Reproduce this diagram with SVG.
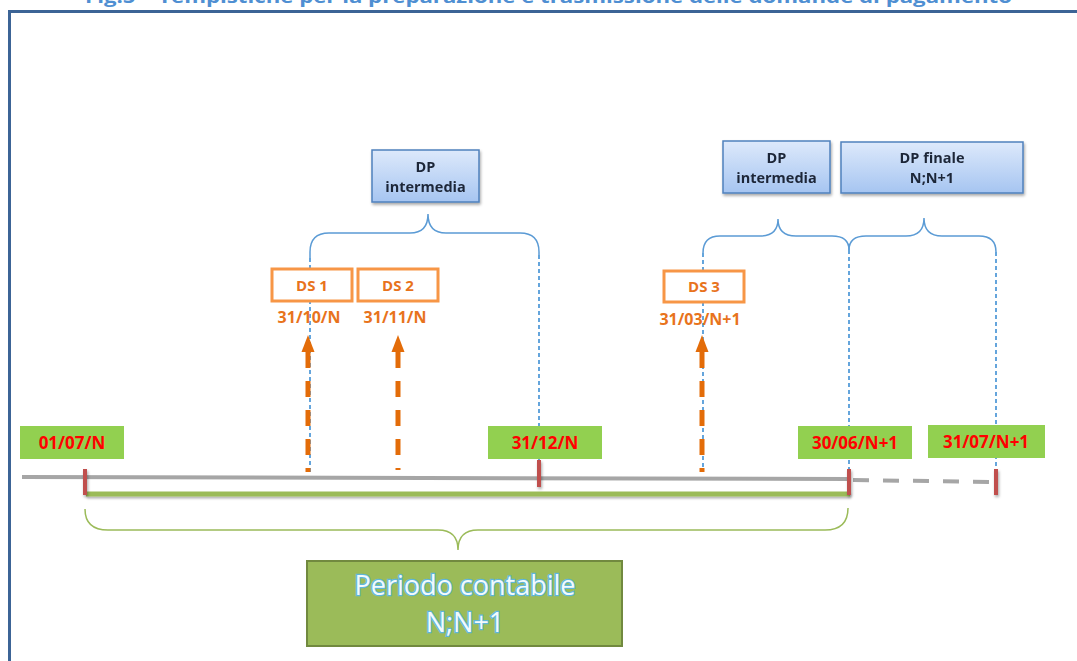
<svg xmlns="http://www.w3.org/2000/svg" width="1077" height="661" viewBox="0 0 1077 661">
  <style>
    .title { font-family: "Open Sans", "Liberation Sans", sans-serif; font-weight: 700; font-size: 17px; fill: #4f8fd2; }
    .date-box { fill: #92d050; }
    .date-txt { font-family: "Open Sans", "Liberation Sans", sans-serif; font-weight: 700; font-size: 17px; fill: #ff0000; text-anchor: middle; }
    .tick { stroke: #c0504d; stroke-width: 4; }
    .dp-box { fill: url(#dpGrad); stroke: #4f81bd; stroke-width: 1.5; }
    .dp-txt { font-family: "Open Sans", "Liberation Sans", sans-serif; font-weight: 700; font-size: 14.5px; fill: #1e2738; text-anchor: middle; }
    .ds-box { fill: #ffffff; stroke: #f79646; stroke-width: 3; }
    .ds-txt { font-family: "Open Sans", "Liberation Sans", sans-serif; font-weight: 700; font-size: 15px; fill: #e8731c; text-anchor: middle; }
    .ds-date { font-family: "Open Sans", "Liberation Sans", sans-serif; font-weight: 700; font-size: 16px; fill: #e8731c; text-anchor: middle; }
    .brace-blue { fill: none; stroke: #5b9bd5; stroke-width: 1.5; }
    .guide { stroke: #3f8fd4; stroke-width: 1.6; stroke-dasharray: 4 3; }
    .arrow-shaft { stroke: #e36c09; stroke-width: 5; stroke-dasharray: 16 13; }
    .arrow-head { fill: #e36c09; }
    .period-txt { font-family: "Open Sans", "Liberation Sans", sans-serif; font-size: 27px; fill: #f2fafd; stroke: #5fb6d8; stroke-width: 2.4; paint-order: stroke; text-anchor: middle; }
  </style>
  <defs>
    <linearGradient id="dpGrad" x1="0" y1="0" x2="0" y2="1">
      <stop offset="0" stop-color="#dde9fb"/>
      <stop offset="1" stop-color="#a6c5f1"/>
    </linearGradient>
    <filter id="shadow" x="-10%" y="-20%" width="130%" height="160%">
      <feGaussianBlur in="SourceAlpha" stdDeviation="1.5"/>
      <feOffset dx="1" dy="2" result="b"/>
      <feComponentTransfer><feFuncA type="linear" slope="0.35"/></feComponentTransfer>
      <feMerge><feMergeNode/><feMergeNode in="SourceGraphic"/></feMerge>
    </filter>
    <filter id="barShadow" filterUnits="userSpaceOnUse" x="0" y="480" width="1077" height="30">
      <feGaussianBlur in="SourceAlpha" stdDeviation="1.2"/>
      <feOffset dx="1" dy="2"/>
      <feComponentTransfer><feFuncA type="linear" slope="0.3"/></feComponentTransfer>
      <feMerge><feMergeNode/><feMergeNode in="SourceGraphic"/></feMerge>
    </filter>
  </defs>

  <rect width="1077" height="661" fill="#ffffff"/>

  <!-- caption, clipped by the page top -->
  <text class="title" x="85" y="3" textLength="927" lengthAdjust="spacingAndGlyphs">Fig.5 – Tempistiche per la preparazione e trasmissione delle domande di pagamento</text>

  <!-- frame -->
  <path d="M9.5,700 V11.5 H1077" fill="none" stroke="#3c6496" stroke-width="3"/>

  <!-- timeline -->
  <g id="timeline">
    <line x1="22" y1="477" x2="849" y2="479" stroke="#a6a6a6" stroke-width="4"/>
    <line x1="853" y1="480" x2="995" y2="482" stroke="#a6a6a6" stroke-width="4" stroke-dasharray="16 14"/>
    <rect x="86" y="491.5" width="764" height="5" fill="#9bbb59" filter="url(#barShadow)"/>
  </g>

  <!-- connectors: guide lines, braces, arrows -->
  <g id="connectors">
    <line class="guide" x1="310" y1="258" x2="310" y2="472"/>
    <line class="guide" x1="539" y1="255" x2="539" y2="470"/>
    <line class="guide" x1="703" y1="253" x2="703" y2="472"/>
    <line class="guide" x1="849" y1="250" x2="849" y2="470"/>
    <line class="guide" x1="996" y1="252" x2="996" y2="470"/>

    <path class="brace-blue" d="M310,258 V252 Q310,233 329,233 H410 Q428,233 428,214 Q428,233 446,233 H520 Q539,233 539,252 V255"/>
    <path class="brace-blue" d="M703,253 Q703,236 720,236 H760 Q778,236 778,219 Q778,236 796,236 H832 Q849,236 849,250"/>
    <path class="brace-blue" d="M849,250 Q849,236 866,236 H906 Q924,236 924,218 Q924,236 942,236 H979 Q996,236 996,252"/>

    <path d="M85,509 Q85,530 108,530 H438 Q458,530 458,550 Q458,530 478,530 H825 Q848,530 848,508" fill="none" stroke="#9bbb59" stroke-width="1.5"/>

    <line class="arrow-shaft" x1="308" y1="352" x2="308" y2="472"/>
    <polygon class="arrow-head" points="308,335 301.5,352 314.5,352"/>
    <line class="arrow-shaft" x1="398" y1="352" x2="398" y2="470"/>
    <polygon class="arrow-head" points="398,335 391.5,352 404.5,352"/>
    <line class="arrow-shaft" x1="702" y1="352" x2="702" y2="472"/>
    <polygon class="arrow-head" points="702,335 695.5,352 708.5,352"/>
  </g>

  <!-- ticks -->
  <g id="ticks" filter="url(#shadow)">
    <line class="tick" x1="85" y1="469" x2="85" y2="495"/>
    <line class="tick" x1="539" y1="460" x2="539" y2="487"/>
    <line class="tick" x1="849" y1="469" x2="849" y2="495"/>
    <line class="tick" x1="996" y1="469" x2="996" y2="495"/>
  </g>

  <!-- date markers -->
  <g id="d-0107">
    <rect class="date-box" x="20" y="426" width="104" height="33"/>
    <text class="date-txt" x="72" y="449">01/07/N</text>
  </g>
  <g id="d-3112">
    <rect class="date-box" x="488" y="426" width="114" height="33"/>
    <text class="date-txt" x="545" y="449">31/12/N</text>
  </g>
  <g id="d-3006">
    <rect class="date-box" x="798" y="426" width="114" height="33"/>
    <text class="date-txt" x="855" y="449">30/06/N+1</text>
  </g>
  <g id="d-3107">
    <rect class="date-box" x="928" y="425" width="117" height="33"/>
    <text class="date-txt" x="986" y="448">31/07/N+1</text>
  </g>

  <!-- payment requests -->
  <g id="dp1" filter="url(#shadow)">
    <rect class="dp-box" x="372" y="150" width="107" height="52"/>
    <text class="dp-txt" x="425.5" y="172">DP</text>
    <text class="dp-txt" x="425.5" y="192">intermedia</text>
  </g>
  <g id="dp2" filter="url(#shadow)">
    <rect class="dp-box" x="723" y="141" width="107" height="52"/>
    <text class="dp-txt" x="776.5" y="163">DP</text>
    <text class="dp-txt" x="776.5" y="183">intermedia</text>
  </g>
  <g id="dp-finale" filter="url(#shadow)">
    <rect class="dp-box" x="841" y="142" width="182" height="51"/>
    <text class="dp-txt" x="932" y="163">DP finale</text>
    <text class="dp-txt" x="932" y="183">N;N+1</text>
  </g>

  <!-- expenditure statements -->
  <g id="ds1">
    <rect class="ds-box" x="272" y="269" width="80" height="32"/>
    <text class="ds-txt" x="312" y="290.5">DS 1</text>
    <text class="ds-date" x="309" y="322.5">31/10/N</text>
  </g>
  <g id="ds2">
    <rect class="ds-box" x="358" y="269" width="80" height="32"/>
    <text class="ds-txt" x="398" y="290.5">DS 2</text>
    <text class="ds-date" x="395" y="322.5">31/11/N</text>
  </g>
  <g id="ds3">
    <rect class="ds-box" x="664" y="271" width="80" height="31"/>
    <text class="ds-txt" x="704" y="292">DS 3</text>
    <text class="ds-date" x="700" y="324.5">31/03/N+1</text>
  </g>

  <!-- accounting period -->
  <g id="periodo">
    <rect x="307" y="561" width="315" height="85" fill="#9bbb59" stroke="#71893f" stroke-width="2"/>
    <text class="period-txt" x="465" y="595">Periodo contabile</text>
    <text class="period-txt" x="465" y="632">N;N+1</text>
  </g>
</svg>
